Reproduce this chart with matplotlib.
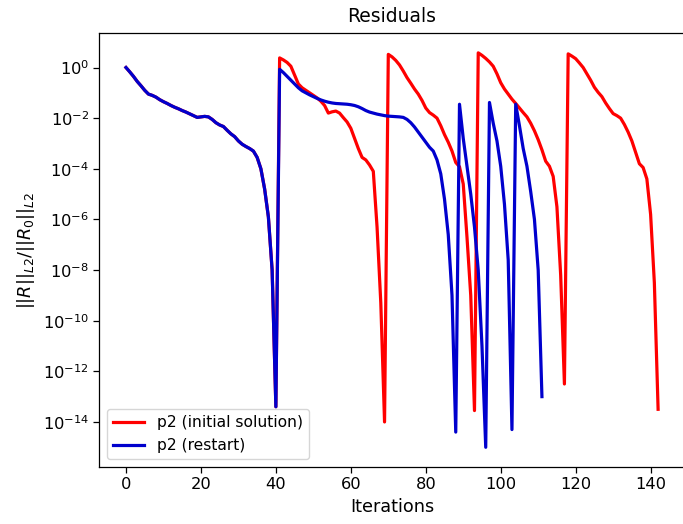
import numpy as np
import matplotlib
matplotlib.use("Agg")
import matplotlib.pyplot as plt
from matplotlib.ticker import NullLocator

# log10 of the residual
log_shared = [0.0, -0.17, -0.35, -0.55, -0.72, -0.9, -1.05, -1.1, -1.17, -1.27,
              -1.35, -1.42, -1.5, -1.57, -1.63, -1.7, -1.76, -1.83, -1.9, -1.97,
              -1.95, -1.93, -1.95, -2.05, -2.18, -2.27, -2.33, -2.48, -2.62, -2.73,
              -2.9, -3.03, -3.12, -3.2, -3.3, -3.55, -4.0, -4.8, -5.9, -8.0,
              -13.4]

log_initial_tail = [
    # 41 - 69
    0.38, 0.3, 0.2, 0.05, -0.3, -0.65, -0.8, -0.9, -1.0, -1.1,
    -1.2, -1.33, -1.5, -1.8, -1.75, -1.72, -1.8, -1.98, -2.15, -2.4,
    -2.8, -3.2, -3.55, -3.65, -3.85, -4.1, -6.3, -9.3, -14.0,
    # 70 - 93
    0.52, 0.42, 0.28, 0.1, -0.14, -0.4, -0.62, -0.85, -1.05, -1.3,
    -1.6, -1.78, -1.88, -2.0, -2.3, -2.65, -2.95, -3.3, -3.75, -3.92,
    -4.6, -6.7, -9.0, -13.55,
    # 94 - 117
    0.58, 0.48, 0.36, 0.22, 0.05, -0.25, -0.6, -0.85, -1.05, -1.25,
    -1.42, -1.6, -1.78, -1.95, -2.2, -2.5, -2.85, -3.25, -3.7, -3.9,
    -4.3, -5.5, -8.2, -12.5,
    # 118 - 142
    0.54, 0.45, 0.35, 0.18, 0.0, -0.25, -0.5, -0.78, -0.98, -1.15,
    -1.4, -1.62, -1.82, -1.9, -2.0, -2.25, -2.55, -2.9, -3.35, -3.8,
    -3.95, -4.4, -5.8, -8.5, -13.5,
]

log_restart_tail = [
    # 41 - 88
    -0.07, -0.2, -0.35, -0.5, -0.65, -0.8, -0.92, -1.0, -1.08, -1.15,
    -1.22, -1.28, -1.33, -1.37, -1.4, -1.42, -1.43, -1.44, -1.45, -1.47,
    -1.5, -1.55, -1.62, -1.7, -1.76, -1.8, -1.84, -1.87, -1.9, -1.92,
    -1.93, -1.94, -1.95, -1.97, -2.05, -2.18, -2.35, -2.55, -2.75, -2.95,
    -3.15, -3.3, -3.65, -4.2, -5.2, -6.6, -9.0, -14.4,
    # 89 - 96
    -1.45, -2.8, -3.9, -5.0, -6.3, -8.0, -11.0, -15.0,
    # 97 - 103
    -1.38, -2.2, -2.9, -3.9, -5.4, -7.6, -14.3,
    # 104 - 111
    -1.45, -2.3, -3.2, -3.9, -4.9, -6.0, -8.0, -13.0,
]

res_initial = np.power(10.0, log_shared + log_initial_tail)
res_restart = np.power(10.0, log_shared + log_restart_tail)
it_initial = np.arange(len(res_initial))
it_restart = np.arange(len(res_restart))

fs = 11.7
fig = plt.figure(figsize=(6.83, 5.24), dpi=100)
ax = fig.add_axes([0.1455, 0.1088, 0.857, 0.828])

ax.semilogy(it_initial, res_initial, color="red", lw=2.3, label="p2 (initial solution)")
ax.semilogy(it_restart, res_restart, color="#0000cd", lw=2.3, label="p2 (restart)")

ax.set_yticks([10.0 ** k for k in range(0, -15, -2)])
ax.yaxis.set_minor_locator(NullLocator())
ax.set_xticks(range(0, 141, 20))
ax.tick_params(labelsize=fs, length=4, width=0.9)
for s in ax.spines.values():
    s.set_linewidth(0.9)

ax.set_title("Residuals", fontsize=13.5, pad=8)
ax.set_xlabel("Iterations", fontsize=fs + 1, labelpad=4)
ax.set_ylabel(r"$||R||_{L2}/||R_0||_{L2}$", fontsize=fs + 1)
ax.legend(loc="lower left", fontsize=fs - 0.5, handlelength=2.0)

fig.savefig("out.png", dpi=100)
